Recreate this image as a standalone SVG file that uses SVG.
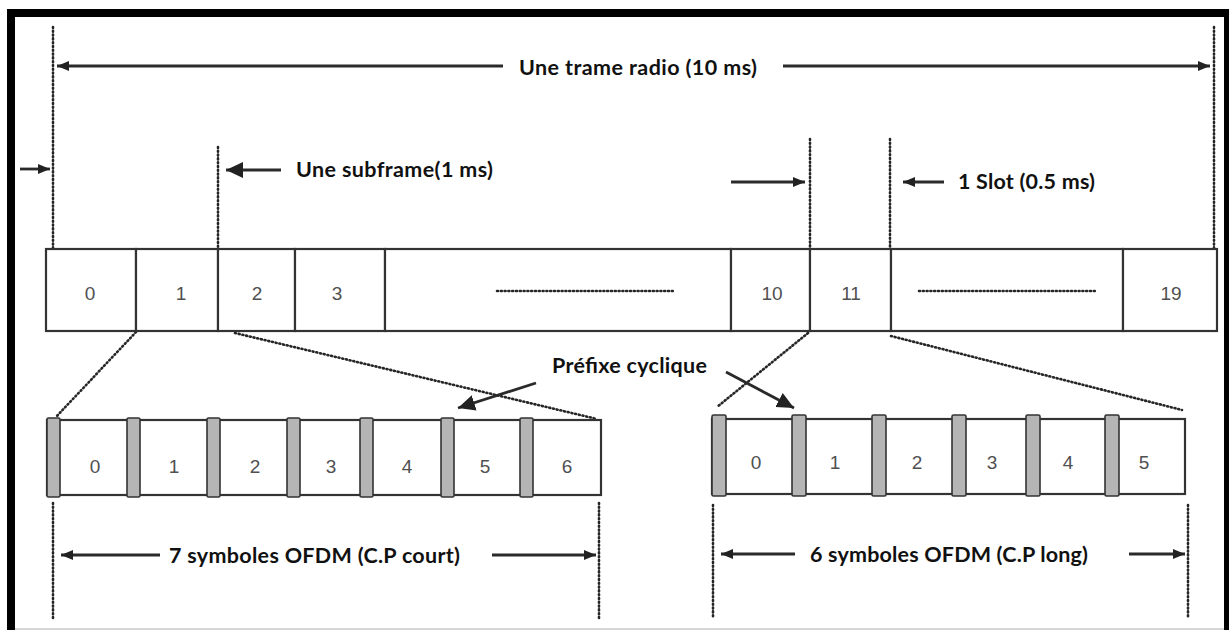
<svg xmlns="http://www.w3.org/2000/svg" width="1229" height="630" viewBox="0 0 1229 630">
<style>
.lbl{font-family:Lato,"Liberation Sans",sans-serif;font-weight:bold;fill:#111;font-size:21.5px}
.num{font-family:"Liberation Sans",Arial,sans-serif;fill:#505050;font-size:19px;text-anchor:middle}
.cell{fill:#fff;stroke:#333;stroke-width:2.2}
.cp{fill:#b5b5b5;stroke:#333;stroke-width:1.6}
.dot{fill:none;stroke:#262626;stroke-width:2.6;stroke-dasharray:1 2.8;stroke-linecap:round}
.arr{fill:none;stroke:#2a2a2a;stroke-width:2.8}
.ah{fill:#222}
</style>
<defs>
<marker id="hd" markerUnits="userSpaceOnUse" markerWidth="14" markerHeight="12" refX="12" refY="6" orient="auto-start-reverse" viewBox="0 0 14 12">
<path d="M0,1 L12,6 L0,11 Z" class="ah"/>
</marker>
<marker id="hdb" markerUnits="userSpaceOnUse" markerWidth="18" markerHeight="18" refX="17" refY="9" orient="auto-start-reverse" viewBox="0 0 18 18">
<path d="M0,1 L17,9 L0,17 Z" class="ah"/>
</marker>
</defs>
<rect x="0" y="0" width="1229" height="630" fill="#fff"/>
<g id="border">
<rect x="7" y="9" width="1222" height="8" fill="#000"/>
<rect x="7" y="9" width="8" height="621" fill="#000"/>
<rect x="1224" y="9" width="5" height="621" fill="#000"/>
<rect x="15" y="628" width="1209" height="2" fill="#d6d6d6"/>
</g>
<g id="connectors">
<line class="dot" x1="53" y1="27" x2="53" y2="248"/>
<line class="dot" x1="218" y1="147" x2="218" y2="248"/>
<line class="dot" x1="810" y1="139" x2="810" y2="248"/>
<line class="dot" x1="890" y1="139" x2="890" y2="248"/>
<line class="dot" x1="1214" y1="27" x2="1214" y2="248"/>
<line class="dot" x1="136" y1="332" x2="56" y2="417"/>
<line class="dot" x1="235" y1="333" x2="597" y2="419"/>
<line class="dot" x1="808" y1="333" x2="717" y2="407"/>
<line class="dot" x1="891" y1="336" x2="1182" y2="410"/>
<line class="dot" x1="53" y1="503" x2="53" y2="618"/>
<line class="dot" x1="599" y1="503" x2="599" y2="618"/>
<line class="dot" x1="713" y1="505" x2="713" y2="618"/>
<line class="dot" x1="1188" y1="505" x2="1188" y2="618"/>
<line class="arr" x1="503" y1="66" x2="57" y2="66" marker-end="url(#hd)"/>
<line class="arr" x1="783" y1="66" x2="1210" y2="66" marker-end="url(#hd)"/>
<line class="arr" x1="20" y1="169" x2="50" y2="169" stroke-width="3" marker-end="url(#hd)"/>
<line class="arr" x1="281" y1="170" x2="226" y2="170" stroke-width="4.5" marker-end="url(#hdb)"/>
<line class="arr" x1="731" y1="182" x2="805" y2="182" marker-end="url(#hd)"/>
<line class="arr" x1="944" y1="182" x2="903" y2="182" stroke-width="3" marker-end="url(#hd)"/>
<line class="arr" x1="536" y1="383" x2="458" y2="408" stroke-width="2" marker-end="url(#hdb)"/>
<line class="arr" x1="726" y1="372" x2="794" y2="408" stroke-width="2" marker-end="url(#hdb)"/>
<line class="arr" x1="160" y1="555" x2="61" y2="555" stroke-width="3" marker-end="url(#hd)"/>
<line class="arr" x1="492" y1="555" x2="596" y2="555" stroke-width="3" marker-end="url(#hd)"/>
<line class="arr" x1="795" y1="554" x2="721" y2="554" stroke-width="3" marker-end="url(#hd)"/>
<line class="arr" x1="1129" y1="554" x2="1185" y2="554" stroke-width="3" marker-end="url(#hd)"/>
</g>
<g id="labels">
<text class="lbl" x="519" y="75" textLength="238">Une trame radio (10 ms)</text>
<text class="lbl" x="296" y="177" textLength="197">Une subframe(1 ms)</text>
<text class="lbl" x="958" y="189" textLength="137">1 Slot (0.5 ms)</text>
<text class="lbl" x="552" y="373" textLength="155">Préfixe cyclique</text>
<text class="lbl" x="169" y="563" textLength="291">7 symboles OFDM (C.P court)</text>
<text class="lbl" x="810" y="562" textLength="278">6 symboles OFDM (C.P long)</text>
</g>
<g id="radio-frame">
<g id="sf0"><rect class="cell" x="46" y="249" width="90" height="82"/><text class="num" x="90" y="300">0</text></g>
<g id="sf1"><rect class="cell" x="136" y="249" width="82" height="82"/><text class="num" x="181" y="300">1</text></g>
<g id="sf2"><rect class="cell" x="218" y="249" width="77" height="82"/><text class="num" x="257" y="300">2</text></g>
<g id="sf3"><rect class="cell" x="295" y="249" width="90" height="82"/><text class="num" x="337" y="300">3</text></g>
<g id="sf4-9"><rect class="cell" x="385" y="249" width="346" height="82"/><line class="dot" x1="497" y1="291" x2="673" y2="291"/></g>
<g id="sf10"><rect class="cell" x="731" y="249" width="79" height="82"/><text class="num" x="772" y="300">10</text></g>
<g id="sf11"><rect class="cell" x="810" y="249" width="81" height="82"/><text class="num" x="851" y="300">11</text></g>
<g id="sf12-18"><rect class="cell" x="891" y="249" width="232" height="82"/><line class="dot" x1="919" y1="291" x2="1096" y2="291"/></g>
<g id="sf19"><rect class="cell" x="1123" y="249" width="94" height="82"/><text class="num" x="1171" y="300">19</text></g>
</g>
<g id="slot-short-cp">
<rect class="cell" x="47" y="420" width="554" height="75"/>
<rect class="cp" x="47" y="418" width="13" height="79" rx="1.5"/>
<rect class="cp" x="127" y="418" width="13" height="79" rx="1.5"/>
<rect class="cp" x="207" y="418" width="13" height="79" rx="1.5"/>
<rect class="cp" x="287" y="418" width="13" height="79" rx="1.5"/>
<rect class="cp" x="360" y="418" width="13" height="79" rx="1.5"/>
<rect class="cp" x="441" y="418" width="13" height="79" rx="1.5"/>
<rect class="cp" x="520" y="418" width="13" height="79" rx="1.5"/>
<text class="num" x="95" y="473">0</text>
<text class="num" x="174" y="473">1</text>
<text class="num" x="255" y="473">2</text>
<text class="num" x="331" y="473">3</text>
<text class="num" x="407" y="473">4</text>
<text class="num" x="485" y="473">5</text>
<text class="num" x="567" y="473">6</text>
</g>
<g id="slot-long-cp">
<rect class="cell" x="712" y="419" width="473" height="75"/>
<rect class="cp" x="712" y="415" width="14" height="81" rx="1.5"/>
<rect class="cp" x="792" y="415" width="14" height="81" rx="1.5"/>
<rect class="cp" x="872" y="415" width="14" height="81" rx="1.5"/>
<rect class="cp" x="952" y="415" width="14" height="81" rx="1.5"/>
<rect class="cp" x="1026" y="415" width="14" height="81" rx="1.5"/>
<rect class="cp" x="1105" y="415" width="14" height="81" rx="1.5"/>
<text class="num" x="756" y="469">0</text>
<text class="num" x="835" y="469">1</text>
<text class="num" x="917" y="469">2</text>
<text class="num" x="992" y="469">3</text>
<text class="num" x="1068" y="469">4</text>
<text class="num" x="1144" y="469">5</text>
</g>
</svg>
